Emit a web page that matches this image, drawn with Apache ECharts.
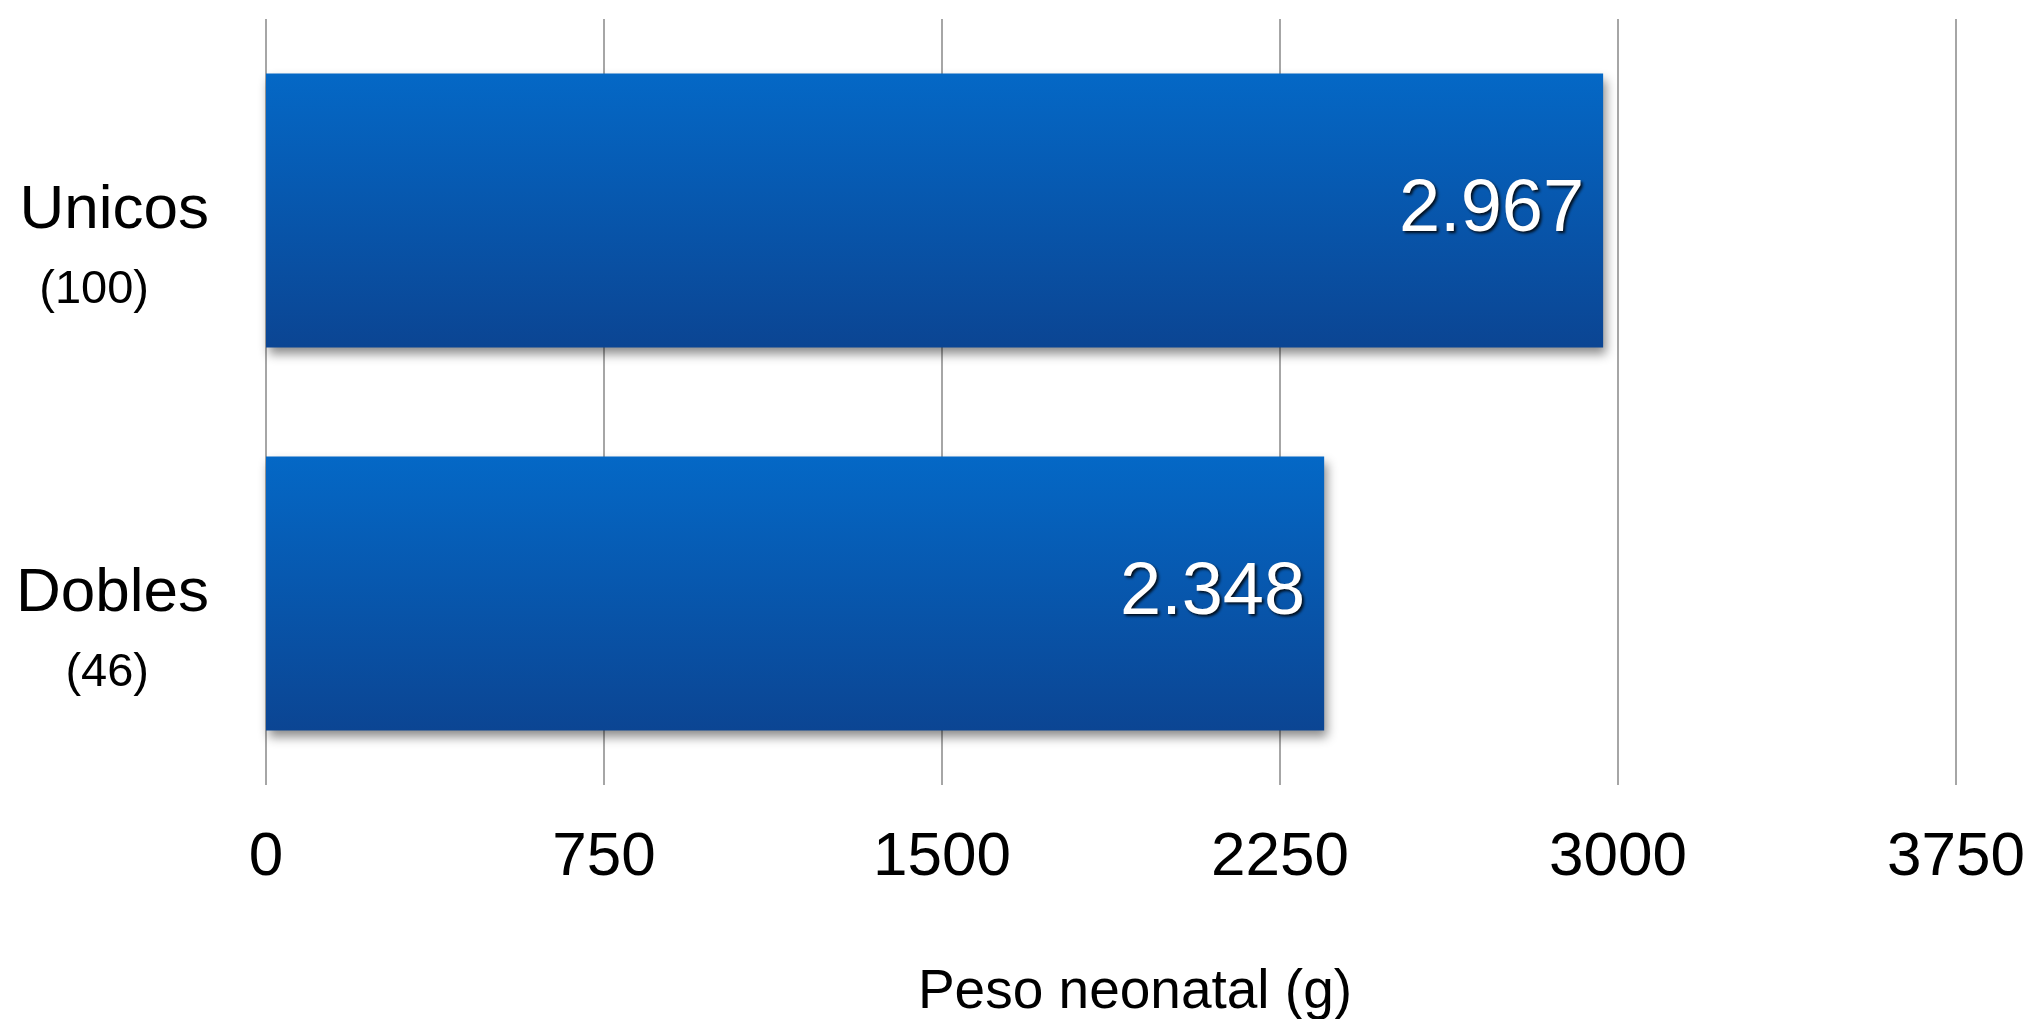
<!DOCTYPE html>
<html><head><meta charset="utf-8">
<script src="https://cdn.jsdelivr.net/npm/echarts@6/dist/echarts.min.js"></script>
<style>html,body{margin:0;padding:0;background:#fff}#c{width:2034px;height:1019px}</style>
</head><body><div id="c"></div>
<script>
const categories = ['Unicos', 'Dobles'];
const counts = ['(100)', '(46)'];
const values = [2967, 2348];
const xMin = 0, xMax = 3750, xInterval = 750;
const axisTitle = 'Peso neonatal (g)';

function fmt(v) { return String(v).replace(/\B(?=(\d{3})+(?!\d))/g, '.'); }

const chart = echarts.init(document.getElementById('c'), null, { renderer: 'canvas' });
const FONT = '"Liberation Sans", Arial, Helvetica, sans-serif';
chart.setOption({
  backgroundColor: '#ffffff',
  animation: false,
  textStyle: { fontFamily: FONT },
  grid: { left: 266, right: 78, top: 19, bottom: 234, containLabel: false, outerBoundsMode: 'none' },
  xAxis: {
    type: 'value', min: xMin, max: xMax, interval: xInterval,
    axisLine: { show: false }, axisTick: { show: false },
    splitLine: { show: true, lineStyle: { color: '#A6A6A6', width: 2 } },
    axisLabel: { fontSize: 62, color: '#000', margin: 42, fontFamily: FONT, formatter: v => String(v) },
    name: axisTitle, nameLocation: 'middle', nameGap: 180,
    nameTextStyle: { fontSize: 55, color: '#000', fontFamily: FONT, padding: [0, 0, 0, 48] }
  },
  yAxis: {
    type: 'category', inverse: true, data: categories,
    axisLine: { show: false }, axisTick: { show: false }, splitLine: { show: false },
    axisLabel: {
      margin: 57, padding: [80, 0, 0, 0],
      formatter: (v, i) => '{a|' + v + '}\n{b|' + counts[i] + '}',
      rich: {
        a: { fontSize: 62, lineHeight: 80, color: '#000', align: 'right', fontFamily: FONT },
        b: { fontSize: 47, lineHeight: 80, color: '#000', align: 'right', padding: [0, 60, 0, 0], fontFamily: FONT }
      }
    }
  },
  series: [{
    type: 'bar', data: values, barWidth: 274,
    itemStyle: {
      color: new echarts.graphic.LinearGradient(0, 0, 0, 1, [
        { offset: 0, color: '#0468C6' },
        { offset: 1, color: '#0B4593' }
      ]),
      shadowColor: 'rgba(0,0,0,0.45)', shadowBlur: 10, shadowOffsetX: 3, shadowOffsetY: 6
    },
    label: {
      show: true, position: 'insideRight', distance: 19,
      fontSize: 74, color: '#fff', fontFamily: FONT,
      formatter: p => fmt(p.value),
      textShadowColor: 'rgba(0,0,0,0.85)', textShadowBlur: 3, textShadowOffsetX: 2, textShadowOffsetY: 2
    }
  }]
});
</script></body></html>
